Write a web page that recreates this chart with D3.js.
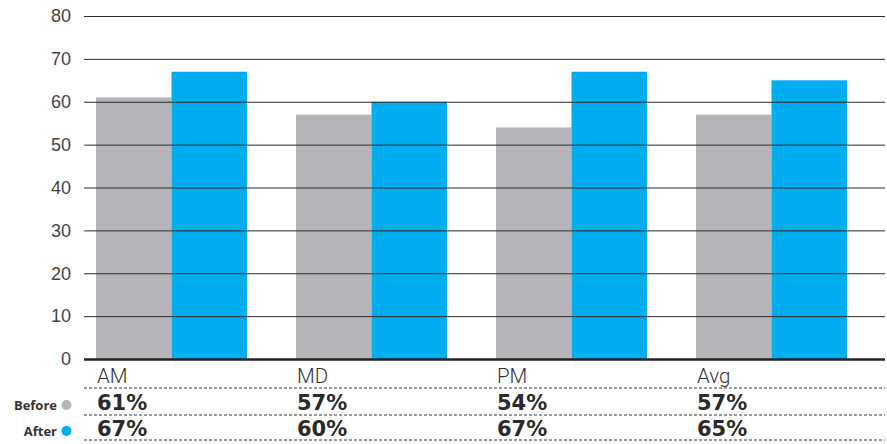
<!DOCTYPE html>
<html>
<head>
<meta charset="utf-8">
<script src="https://cdn.jsdelivr.net/npm/d3@7"></script>
<style>
  body { margin: 0; background: #fff; }
  svg { display: block; }
</style>
</head>
<body>
<svg width="887" height="444"></svg>
<script>
var categories = ["AM", "MD", "PM", "Avg"]
var seriesNames = ["Before", "After"]
var beforeValues = [61, 57, 54, 57]
var afterValues = [67, 60, 67, 65]
var yTicks = [0, 10, 20, 30, 40, 50, 60, 70, 80]
var colors = {Before: "#b4b5b9", After: "#00adee"}

function main(){
	var svg = d3.select("svg")
	var left = 84, right = 885

	var yScale = d3.scaleLinear().domain([0, 80]).range([359, 16])
	var xScale = d3.scaleBand().domain(categories).range([96, 847]).paddingInner(0.245)
	var xInner = d3.scaleBand().domain(seriesNames).range([0, xScale.bandwidth()])

	// bars
	var groups = svg.selectAll("g.grp").data(categories).enter().append("g")
	.attr("class", "grp")
	.attr("transform", d => "translate(" + xScale(d) + ",0)")

	groups.selectAll("rect").data(function(d, i){
		return [{s: "Before", v: beforeValues[i]}, {s: "After", v: afterValues[i]}]
	}).enter().append("rect")
	.attr("x", d => xInner(d.s))
	.attr("width", xInner.bandwidth())
	.attr("y", d => yScale(d.v))
	.attr("height", d => yScale(0) - yScale(d.v))
	.attr("fill", d => colors[d.s])

	// y axis + grid (on top of bars)
	var yAxis = d3.axisLeft(yScale).tickValues(yTicks).tickSize(-(right - left)).tickPadding(13)
	var gy = svg.append("g").attr("transform", "translate(" + left + ",0)").call(yAxis)
	gy.select(".domain").remove()
	gy.selectAll(".tick line").attr("stroke", "#2b2b2b").attr("stroke-width", 1)
	gy.selectAll(".tick text")
	.attr("fill", "#444").attr("font-size", 18)
	.attr("font-family", "'Liberation Sans', Arial, sans-serif")
	gy.selectAll(".tick").filter(d => d === 0).select("line")
	.attr("stroke", "#222").attr("stroke-width", 2.5)

	// category labels
	svg.selectAll("text.cat").data(categories).enter().append("text")
	.attr("class", "cat")
	.attr("x", d => xScale(d) + 1)
	.attr("y", 383)
	.attr("font-size", 20.5)
	.attr("font-weight", 300)
	.attr("font-family", "Roboto, 'Liberation Sans', sans-serif")
	.attr("fill", "#333")
	.text(d => d)

	// dashed rules
	svg.selectAll("line.rule").data([388, 415, 440]).enter().append("line")
	.attr("class", "rule")
	.attr("x1", left).attr("x2", right)
	.attr("y1", d => d).attr("y2", d => d)
	.attr("stroke", "#333").attr("stroke-width", 1)
	.attr("stroke-dasharray", "3,2")

	// table rows
	var rows = [{name: "Before", vals: beforeValues, y: 410}, {name: "After", vals: afterValues, y: 436}]
	rows.forEach(function(r){
		svg.append("text")
		.attr("x", 57).attr("y", r.y)
		.attr("text-anchor", "end")
		.attr("font-size", 13).attr("font-weight", "bold")
		.attr("font-family", "'Open Sans', 'DejaVu Sans', sans-serif")
		.attr("fill", "#333")
		.text(r.name)
		svg.append("circle")
		.attr("cx", 66.5).attr("cy", r.y - 5).attr("r", 5)
		.attr("fill", colors[r.name])
		svg.selectAll(null).data(r.vals).enter().append("text")
		.attr("x", (d, i) => xScale(categories[i]) + 1)
		.attr("y", r.y)
		.attr("font-size", 21).attr("font-weight", "bold")
		.attr("font-family", "'DejaVu Sans', sans-serif")
		.attr("fill", "#2a2a2a")
		.text(d => d + "%")
	})
}

window.onload = function() {
  main()
};
</script>
</body>
</html>
